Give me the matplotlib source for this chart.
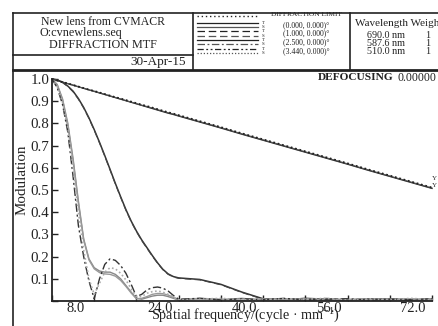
import numpy as np
import matplotlib.pyplot as plt
import matplotlib.transforms as mtransforms

plt.rcParams['font.family'] = ['Liberation Serif', 'DejaVu Serif']
plt.rcParams['mathtext.fontset'] = 'custom'
plt.rcParams['mathtext.rm'] = 'Liberation Serif'
plt.rcParams['mathtext.default'] = 'regular'

# spatial frequency (cycles/mm)
freq = [0, 1, 2, 3, 4, 5, 6, 7, 8, 9, 10, 11, 12, 13, 14, 15, 16, 17, 18, 19, 20,
        21, 22, 23, 24, 28, 32, 36, 40, 44, 48, 52, 56, 60, 64, 68, 72]

diff_limit = [1.0, 0.993, 0.986, 0.980, 0.973, 0.966, 0.959, 0.952, 0.946, 0.939, 0.932,
              0.925, 0.918, 0.912, 0.905, 0.898, 0.891, 0.884, 0.878, 0.871, 0.864,
              0.857, 0.850, 0.844, 0.837, 0.810, 0.783, 0.755, 0.728, 0.701, 0.674,
              0.647, 0.620, 0.592, 0.565, 0.538, 0.511]

# field (0.000, 0.000)
f0_t = [1.0, 0.993, 0.986, 0.979, 0.972, 0.965, 0.958, 0.951, 0.944, 0.937, 0.930,
        0.923, 0.916, 0.909, 0.902, 0.895, 0.888, 0.881, 0.874, 0.867, 0.860,
        0.853, 0.846, 0.840, 0.833, 0.806, 0.779, 0.751, 0.724, 0.697, 0.670,
        0.643, 0.616, 0.588, 0.561, 0.534, 0.507]
f0_s = [1.0, 0.993, 0.986, 0.979, 0.972, 0.965, 0.958, 0.951, 0.945, 0.938, 0.931,
        0.924, 0.917, 0.910, 0.903, 0.896, 0.889, 0.882, 0.876, 0.869, 0.862,
        0.855, 0.848, 0.842, 0.835, 0.808, 0.781, 0.753, 0.726, 0.699, 0.672,
        0.645, 0.618, 0.590, 0.563, 0.536, 0.509]

# field (1.000, 0.000)
f1_t = [1.0, 0.996, 0.985, 0.968, 0.945, 0.912, 0.872, 0.825, 0.772, 0.715, 0.655,
        0.593, 0.530, 0.470, 0.412, 0.360, 0.315, 0.275, 0.240, 0.205, 0.172,
        0.143, 0.122, 0.110, 0.104, 0.097, 0.075, 0.040, 0.010, 0.005, 0.012,
        0.008, 0.004, 0.010, 0.008, 0.005, 0.008]
f1_s = [1.0, 0.996, 0.984, 0.966, 0.942, 0.909, 0.869, 0.822, 0.769, 0.712, 0.652,
        0.590, 0.527, 0.467, 0.409, 0.357, 0.312, 0.272, 0.237, 0.202, 0.170,
        0.141, 0.120, 0.108, 0.102, 0.095, 0.073, 0.038, 0.008, 0.010, 0.006,
        0.012, 0.008, 0.004, 0.010, 0.008, 0.004]

# field (2.500, 0.000)
f2_t = [1.0, 0.975, 0.910, 0.800, 0.640, 0.450, 0.280, 0.190, 0.150, 0.135, 0.130,
        0.130, 0.120, 0.100, 0.070, 0.040, 0.012, 0.008, 0.015, 0.022, 0.026,
        0.026, 0.020, 0.012, 0.004, 0.010, 0.006, 0.012, 0.004, 0.008, 0.010,
        0.004, 0.008, 0.006, 0.010, 0.005, 0.008]
f2_s = [1.0, 0.972, 0.905, 0.790, 0.630, 0.440, 0.275, 0.185, 0.145, 0.128, 0.122,
        0.120, 0.112, 0.093, 0.066, 0.036, 0.010, 0.012, 0.020, 0.030, 0.034,
        0.033, 0.027, 0.016, 0.006, 0.012, 0.008, 0.004, 0.010, 0.006, 0.004,
        0.010, 0.006, 0.008, 0.004, 0.010, 0.006]

# field (3.440, 0.000)
f3_t = [1.0, 0.960, 0.885, 0.760, 0.560, 0.340, 0.200, 0.090, 0.010, 0.100, 0.165,
        0.190, 0.183, 0.160, 0.125, 0.075, 0.020, 0.030, 0.050, 0.060, 0.063,
        0.058, 0.045, 0.025, 0.008, 0.012, 0.005, 0.010, 0.006, 0.012, 0.004,
        0.008, 0.010, 0.004, 0.008, 0.006, 0.010]
f3_s = [1.0, 0.965, 0.895, 0.780, 0.600, 0.400, 0.230, 0.100, 0.030, 0.080, 0.130,
        0.150, 0.145, 0.125, 0.095, 0.055, 0.020, 0.020, 0.035, 0.042, 0.045,
        0.040, 0.030, 0.018, 0.005, 0.008, 0.012, 0.006, 0.004, 0.010, 0.008,
        0.012, 0.004, 0.010, 0.006, 0.012, 0.006]

field_labels = ['(0.000, 0.000)°', '(1.000, 0.000)°', '(2.500, 0.000)°', '(3.440, 0.000)°']
wavelengths = ['690.0 nm', '587.6 nm', '510.0 nm']
weights = ['1', '1', '1']

W, H = 438, 326
fig = plt.figure(figsize=(W / 100, H / 100), dpi=100)

# background axes in pixel coordinates for the header/frame
bg = fig.add_axes([0, 0, 1, 1])
bg.set_xlim(0, W)
bg.set_ylim(H, 0)
bg.axis('off')

k = '#222222'
bg.plot([13, W], [13, 13], color=k, lw=1.2)
bg.plot([13, W], [69.5, 69.5], color=k, lw=2.0)
bg.plot([13, 13], [13, H], color=k, lw=1.2)
bg.plot([193, 193], [13, 69.5], color=k, lw=1.2)
bg.plot([350, 350], [13, 69.5], color=k, lw=1.2)
bg.plot([13, 193], [55, 55], color=k, lw=1.2)

bg.text(103, 22, 'New lens from CVMACR', ha='center', va='center', fontsize=8.5, color=k)
bg.text(39, 33, 'O:cvnewlens.seq', ha='left', va='center', fontsize=8.7, color=k)
bg.text(103, 45, 'DIFFRACTION MTF', ha='center', va='center', fontsize=8.7, color=k)
bg.text(186, 62, '30-Apr-15', ha='right', va='center', fontsize=9.5, color=k)

# legend samples in the header
lx = [197, 258]
bg.plot(lx, [16, 16], color=k, lw=1.0, ls=(0, (1, 2)))
bg.text(306, 15, 'DIFFRACTION LIMIT', ha='center', va='center', fontsize=5.3, color=k)
row_y = [25, 33.5, 42, 51]
styles = [('-', '-'), ((0, (6, 3)), (0, (6, 3))), ('-', (0, (6, 2, 1.5, 2))),
          ((0, (5, 2, 1.5, 2, 1.5, 2)), (0, (1, 1.5)))]
for i, lab in enumerate(field_labels):
    y = row_y[i]
    st, ss = styles[i]
    bg.plot(lx, [y - 2.2, y - 2.2], color=k, lw=0.9, ls=st)
    bg.plot(lx, [y + 2.2, y + 2.2], color='#555555', lw=0.9, ls=ss)
    bg.text(263, y - 2.2, 'T', ha='center', va='center', fontsize=3.5, color=k)
    bg.text(263, y + 2.2, 'S', ha='center', va='center', fontsize=3.5, color=k)
    bg.text(306, y, lab, ha='center', va='center', fontsize=5.6, color=k)

bg.text(355, 23, 'Wavelength Weight', ha='left', va='center', fontsize=8, color=k)
for i, (wl, wt) in enumerate(zip(wavelengths, weights)):
    y = 35 + i * 8.5
    bg.text(386, y, wl, ha='center', va='center', fontsize=7.3, color=k)
    bg.text(428, y, wt, ha='center', va='center', fontsize=7.3, color=k)

bg.text(318, 78, 'DEFOCUSING', ha='left', va='center', fontsize=8.2,
        fontweight='bold', color=k)
bg.text(397, 78, '0.00000', ha='left', va='center', fontsize=8.5, color=k)

# MTF axes
ax = fig.add_axes([52 / W, 1 - 301 / H, 380 / W, 222 / H])
ax.patch.set_alpha(0)
ax.plot(freq, diff_limit, color=k, lw=1.3, ls=(0, (1, 1.5)), clip_on=False, zorder=5)
ax.plot(freq, f0_t, color=k, lw=0.9, clip_on=False)
ax.plot(freq, f0_s, color='#555555', lw=0.8, clip_on=False)
ax.plot(freq, f1_t, color='#333333', lw=1.1, clip_on=False)
ax.plot(freq, f1_s, color='#444444', lw=0.8, ls=(0, (6, 3)), clip_on=False)
ax.plot(freq, f2_t, color='#888888', lw=1.0, clip_on=False)
ax.plot(freq, f2_s, color='#999999', lw=1.0, clip_on=False)
ax.plot(freq, f3_t, color='#333333', lw=1.0, ls=(0, (6, 2, 1.5, 2)), clip_on=False)
ax.plot(freq, f3_s, color='#aaaaaa', lw=1.2, ls=(0, (1, 1.5)), clip_on=False)

ax.set_xlim(0, 72)
ax.set_ylim(0, 1.0)
for s in ['top', 'right']:
    ax.spines[s].set_visible(False)
for s in ['left', 'bottom']:
    ax.spines[s].set_linewidth(1.3)
    ax.spines[s].set_color(k)

xt = np.arange(0, 73, 8)
ax.set_xticks(xt)
ax.set_xticklabels(['%.1f' % v if (v // 8) % 2 == 1 else '' for v in xt])
yt = np.round(np.arange(0, 1.01, 0.1), 1)
ax.set_yticks(yt)
ax.set_yticklabels(['' if v == 0 else '%.1f' % v for v in yt])
ax.tick_params(axis='both', direction='in', length=4, width=1.0, colors=k,
               labelsize=10.8, pad=2)
ax.tick_params(axis='x', pad=0.5, labelsize=10.5)
offset = mtransforms.ScaledTranslation(-19 / 100, 0, fig.dpi_scale_trans)
for lab in ax.get_xticklabels():
    lab.set_transform(lab.get_transform() + offset)

ax.text(72, 0.54, 'Y', transform=ax.transData, fontsize=5, ha='left', va='bottom',
        color=k, clip_on=False)
ax.text(72, 0.51, 'Y', transform=ax.transData, fontsize=5, ha='left', va='bottom',
        color=k, clip_on=False)

fig.text(22 / W, 1 - 180 / H, 'Modulation', rotation=90, ha='center', va='center',
         fontsize=10.8, color=k)
fig.text(245 / W, 1 / H, 'Spatial frequency/(cycle · mm$^{-1}$)', ha='center',
         va='bottom', fontsize=10.2, color=k)

fig.savefig('out.png', dpi=100)
